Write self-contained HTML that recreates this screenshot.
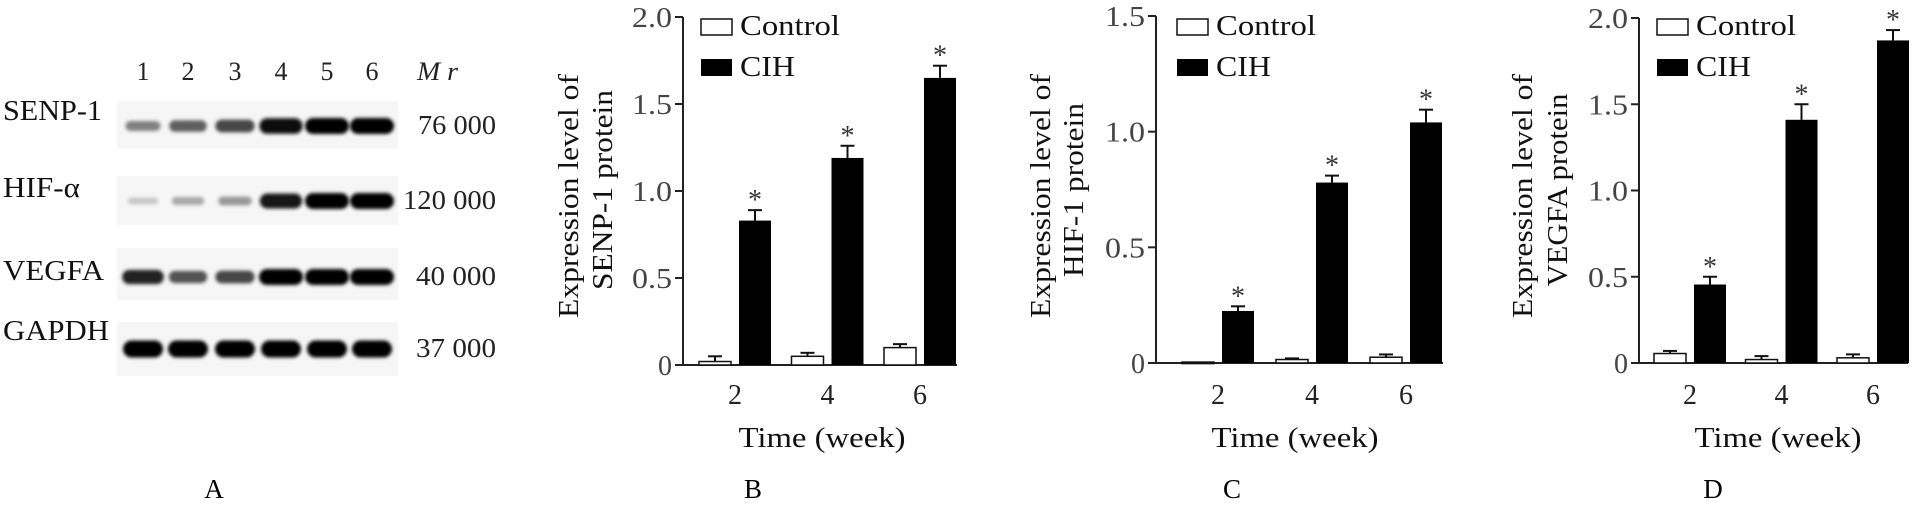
<!DOCTYPE html>
<html><head><meta charset="utf-8"><style>
html,body{margin:0;padding:0;background:#fff;}
svg{display:block;font-family:"Liberation Serif",serif;}
</style></head><body>
<svg id="fig" width="1915" height="508" viewBox="0 0 1915 508" xmlns="http://www.w3.org/2000/svg">
<defs><filter id="blur" x="-20%" y="-50%" width="140%" height="200%"><feGaussianBlur stdDeviation="1.8"/></filter></defs>
<g id="panelA"></g>
<g id="charts"></g>
<text x="214" y="498" font-size="27" text-anchor="middle">A</text>
<text x="753" y="498" font-size="27" text-anchor="middle">B</text>
<text x="1232" y="498" font-size="27" text-anchor="middle">C</text>
<text x="1713" y="498" font-size="27" text-anchor="middle">D</text>
</svg>
<script>
const NS='http://www.w3.org/2000/svg';
// ---- Data ----
const weeks=['2','4','6'];
const ctrlB=[0.02,0.05,0.10];
const ctrlErrB=[0.03,0.02,0.02];
const cihB=[0.83,1.19,1.65];
const cihErrB=[0.06,0.07,0.07];
const ticksB=['0','0.5','1.0','1.5','2.0'];
const ctrlC=[0.004,0.015,0.025];
const ctrlErrC=[0.0,0.005,0.012];
const cihC=[0.225,0.78,1.04];
const cihErrC=[0.02,0.03,0.055];
const ticksC=['0','0.5','1.0','1.5'];
const ctrlD=[0.055,0.02,0.03];
const ctrlErrD=[0.015,0.02,0.02];
const cihD=[0.455,1.41,1.87];
const cihErrD=[0.045,0.09,0.06];
const ticksD=['0','0.5','1.0','1.5','2.0'];
const lanes=['1','2','3','4','5','6'];
const proteins=['SENP-1','HIF-α','VEGFA','GAPDH'];
const mrs=['76 000','120 000','40 000','37 000'];
const intensSENP=[0.45,0.6,0.7,0.95,1,1];
const intensHIF=[0.15,0.28,0.35,0.9,1,1];
const intensVEGF=[0.85,0.65,0.7,1,1,1];
const intensGAPDH=[1,1,1,1,1,1];

function el(tag,attrs,parent){const e=document.createElementNS(NS,tag);for(const k in attrs)e.setAttribute(k,attrs[k]);parent.appendChild(e);return e;}
function fit(t,len){t.setAttribute('textLength',len);t.setAttribute('lengthAdjust','spacingAndGlyphs');}

// ---- Panel A ----
const A=document.getElementById('panelA');
const laneX=[143,188,235,281,327,372];
lanes.forEach((l,i)=>{const t=el('text',{x:laneX[i],y:80,'font-size':26,'text-anchor':'middle',fill:'#222'},A);t.textContent=l;

});
const mr=el('text',{x:417,y:80,'font-size':26,'font-style':'italic',fill:'#222'},A);mr.textContent='M r';fit(mr,41);


const boxes=[[101,149,126],[176,225,201],[248,300,277],[322,376,349]];
const intens=[intensSENP,intensHIF,intensVEGF,intensGAPDH];
const labelY=[120,197,280,340];
const labelW=[99,77,101,106];
const mrX=[418,403,416,416];
const mrW=[78,93,80,80];
proteins.forEach((p,r)=>{
 const t=el('text',{x:3,y:labelY[r],'font-size':28,fill:'#111'},A);t.textContent=p;fit(t,labelW[r]);
 
 
 const b=boxes[r];
 const bg=el('rect',{x:117,y:b[0],width:281,height:b[1]-b[0],fill:'#f6f6f6'},A);
 
 
 intens[r].forEach((v,i)=>{
  const w=(r===3?40:28+v*16), h=(r===3?17:5+v*11);
  const g=Math.round(235-v*235);
  const band=el('rect',{x:laneX[i]-w/2,y:b[2]-h/2,width:w,height:h,rx:h/2,fill:`rgb(${g},${g},${g})`,filter:'url(#blur)'},A);
  
  
 });
 const m=el('text',{x:mrX[r],y:b[2]+8,'font-size':27,fill:'#222'},A);m.textContent=mrs[r];fit(m,mrW[r]);
 
 
});

// ---- Bar charts ----
function chart(cfg){
 const g=el('g',{},document.getElementById('charts'));
 
 
 const y=v=>cfg.y0-(v/cfg.max)*(cfg.y0-cfg.yTop);
 const xc=i=>cfg.ax+cfg.off+i*cfg.step;
 el('line',{x1:cfg.ax,y1:cfg.yTop,x2:cfg.ax,y2:cfg.y0,stroke:'#222','stroke-width':2},g);
 el('line',{x1:cfg.ax,y1:cfg.y0,x2:cfg.xEnd,y2:cfg.y0,stroke:'#222','stroke-width':2},g);
 cfg.ticks.forEach(t=>{const v=parseFloat(t);const yy=y(v);
  el('line',{x1:cfg.ax-8,y1:yy,x2:cfg.ax,y2:yy,stroke:'#222','stroke-width':2},g);
  const tx=el('text',{x:cfg.ax-11,y:yy+10,'font-size':28,'text-anchor':'end',fill:'#444'},g);tx.textContent=t;
  if(t.length>1)fit(tx,40);
  
  });
 cfg.cats.forEach((c,i)=>{
  const cx=xc(i);
  const tx=el('text',{x:cx,y:404,'font-size':28,'text-anchor':'middle',fill:'#222'},g);tx.textContent=c;
  
  
  const cv=cfg.ctrl[i], ce=cfg.ctrlErr[i];
  if(ce>0){el('line',{x1:cx-20,y1:y(cv),x2:cx-20,y2:y(cv+ce),stroke:'#111','stroke-width':2},g);
   el('line',{x1:cx-27,y1:y(cv+ce),x2:cx-13,y2:y(cv+ce),stroke:'#111','stroke-width':2},g);}
  const rc=el('rect',{x:cx-36,y:y(cv),width:32,height:Math.max(cfg.y0-y(cv),1.5),fill:'#fff',stroke:'#111','stroke-width':1.5},g);
  
  
  const hv=cfg.cih[i], he=cfg.cihErr[i];
  el('line',{x1:cx+20,y1:y(hv),x2:cx+20,y2:y(hv+he),stroke:'#111','stroke-width':2},g);
  el('line',{x1:cx+13,y1:y(hv+he),x2:cx+27,y2:y(hv+he),stroke:'#111','stroke-width':2},g);
  const rh=el('rect',{x:cx+4,y:y(hv),width:32,height:cfg.y0-y(hv),fill:'#000'},g);
  
  
  const st=el('text',{x:cx+20,y:y(hv+he)-1,'font-size':28,'text-anchor':'middle',fill:'#333'},g);st.textContent='*';
  
  
 });
 const lx=cfg.legX;
 const l1=el('rect',{x:lx,y:19,width:31,height:16,fill:'#fff',stroke:'#111','stroke-width':1.5},g);
 
 
 const t1=el('text',{x:lx+39,y:35,'font-size':29,fill:'#111'},g);t1.textContent='Control';fit(t1,100);
 
 
 const l2=el('rect',{x:lx,y:59,width:31,height:17,fill:'#000'},g);
 
 
 const t2=el('text',{x:lx+39,y:76,'font-size':29,fill:'#111'},g);t2.textContent='CIH';fit(t2,55);
 
 
 const xt=el('text',{x:cfg.ax+139,y:447,'font-size':29,'text-anchor':'middle',fill:'#111'},g);xt.textContent='Time (week)';fit(xt,167);
 
 
 [[cfg.yl1,'Expression level of',244,196],[cfg.yl2,cfg.ylabel,cfg.yl2len,190]].forEach(([x,s,len,cy],k)=>{
  const t=el('text',{x:0,y:0,'font-size':29,'text-anchor':'middle',fill:'#111',transform:`translate(${x+10},${cy}) rotate(-90)`},g);t.textContent=s;fit(t,len);
  
  
 });
}
chart({name:'chart-senp1',ax:683,xEnd:957,yTop:17,y0:365,max:2.0,off:52,step:92.5,ticks:ticksB,cats:weeks,ctrl:ctrlB,ctrlErr:ctrlErrB,cih:cihB,cihErr:cihErrB,legX:701,yl1:568,yl2:602,ylabel:'SENP-1  protein',yl2len:200});
chart({name:'chart-hif1',ax:1156,xEnd:1443,yTop:16,y0:363,max:1.5,off:62,step:94,ticks:ticksC,cats:weeks,ctrl:ctrlC,ctrlErr:ctrlErrC,cih:cihC,cihErr:cihErrC,legX:1177,yl1:1040,yl2:1073,ylabel:'HIF-1  protein',yl2len:174});
chart({name:'chart-vegfa',ax:1639,xEnd:1908,yTop:18,y0:363,max:2.0,off:51,step:91.5,ticks:ticksD,cats:weeks,ctrl:ctrlD,ctrlErr:ctrlErrD,cih:cihD,cihErr:cihErrD,legX:1657,yl1:1522,yl2:1557,ylabel:'VEGFA protein',yl2len:193});
</script>
</body></html>
